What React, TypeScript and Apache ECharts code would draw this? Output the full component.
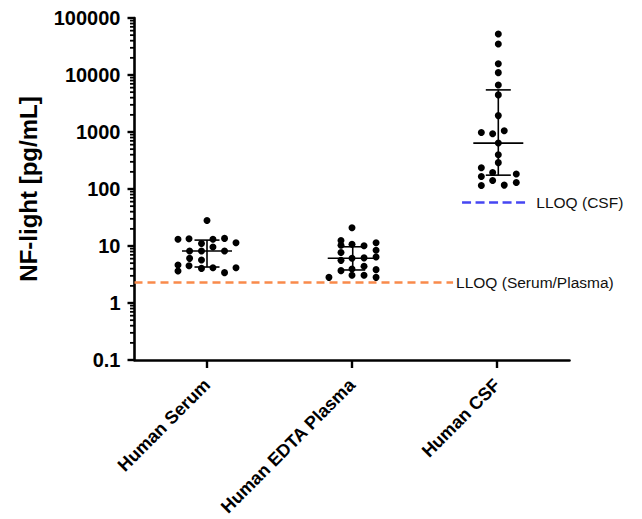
import React, { useEffect, useRef } from "react";
import * as echarts from "echarts";

const categories = ["Human Serum", "Human EDTA Plasma", "Human CSF"];

// jitter offsets (category units) and values
const serumOffsets = [0, -0.2, -0.124, -0.038, 0.041, 0.121, 0.2, 0.041, -0.12, -0.038, 0.121, -0.12, -0.038, -0.2, -0.2, -0.124, -0.038, 0.041, 0.121, 0.2];
const serumValues = [28.1, 13.1, 13.4, 11.1, 13.1, 13.6, 11.4, 9.6, 8.2, 8.2, 8.2, 6.07, 5.69, 4.65, 3.65, 4.52, 4.05, 4.17, 3.41, 4.17];

const plasmaOffsets = [0, -0.076, -0.076, 0, 0.083, 0.166, 0.166, -0.076, -0.076, 0, 0.083, 0.166, -0.076, 0, 0, 0.083, 0.083, 0.166, 0.166, -0.159];
const plasmaValues = [20.9, 12.5, 10.3, 10.7, 10.1, 11.4, 8.4, 7.7, 5.6, 6.1, 6.2, 6.4, 3.7, 3.96, 3.06, 4.4, 3.06, 3.85, 2.82, 2.82];

const csfOffsets = [0.009, 0.009, 0.009, 0.009, 0.009, 0.009, 0.009, -0.108, -0.03, 0.05, 0.009, 0.009, 0.009, -0.108, -0.03, -0.108, 0.133, -0.03, 0.133, -0.108, 0.05];
const csfValues = [52500, 35000, 15800, 11000, 6700, 4480, 1940, 980, 930, 1050, 640, 400, 290, 236, 195, 166, 183, 141, 130, 115, 117];

// central line and error bars per group
const statCenters = [0, 0.005, 0.009];
const statMean = [8.2, 6.1, 638];
const statLow = [4.28, 3.8, 175];
const statHigh = [12.7, 9.7, 5480];

// lower limits of quantification
const lloqSerumPlasma = 2.3;
const lloqSerumPlasmaRange = [-0.5, 1.697];
const lloqCsf = 58;
const lloqCsfRange = [1.759, 2.216];

const yTicks = [0.1, 1, 10, 100, 1000, 10000, 100000];

export default function App() {
  const ref = useRef<HTMLDivElement>(null);
  useEffect(() => {
    if (!ref.current) return;
    const chart = echarts.init(ref.current, undefined, { renderer: "svg" });

    const pts = (offs: number[], vals: number[], idx: number) =>
      vals.map((v, i) => [idx + offs[i], v]);

    const minorTickValues: number[] = [];
    for (let d = 0; d < yTicks.length - 1; d++) {
      for (let k = 2; k <= 9; k++) minorTickValues.push(Number((k * yTicks[d]).toPrecision(6)));
    }

    const statData = categories.map((_, i) => [i + statCenters[i], statMean[i], statLow[i], statHigh[i]]);

    const font = "Liberation Sans, Arial, Helvetica, sans-serif";
    const dot = { color: "#000", opacity: 1 };

    chart.setOption({
      animation: false,
      backgroundColor: "#ffffff",
      textStyle: { fontFamily: font },
      grid: { left: 134.5, right: 72.5, top: 18, bottom: 158.5, containLabel: false },
      xAxis: [
        {
          type: "category",
          data: categories,
          boundaryGap: true,
          axisLine: { show: true, onZero: false, lineStyle: { color: "#000", width: 2.6 } },
          axisTick: { show: true, alignWithLabel: true, length: 8, lineStyle: { color: "#000", width: 2.4 } },
          axisLabel: { rotate: 45, fontSize: 18, fontWeight: "bold", color: "#000", margin: 22, fontFamily: font },
          splitLine: { show: false },
        },
        { type: "value", min: -0.5, max: 2.5, show: false },
      ],
      yAxis: {
        type: "log",
        logBase: 10,
        min: 0.1,
        max: 100000,
        splitNumber: 6,
        name: "NF-light [pg/mL]",
        nameLocation: "middle",
        nameGap: 94,
        nameTextStyle: { fontSize: 24, fontWeight: "bold", color: "#000", fontFamily: font },
        axisLine: { show: true, onZero: false, lineStyle: { color: "#000", width: 2.6 } },
        axisTick: { show: true, length: 7, lineStyle: { color: "#000", width: 2.4 } },
        minorTick: { show: false },
        axisLabel: {
          fontSize: 20,
          fontWeight: "bold",
          color: "#000",
          margin: 14,
          fontFamily: font,
          formatter: (v: number) => String(Number(v.toPrecision(6))),
        },
        splitLine: { show: false },
      },
      series: [
        {
          type: "custom",
          name: "minorTicks",
          xAxisIndex: 1,
          yAxisIndex: 0,
          clip: false,
          silent: true,
          data: minorTickValues.map((v) => [-0.5, v]),
          renderItem: (params: any, api: any) => {
            const p = api.coord([api.value(0), api.value(1)]);
            return {
              type: "line",
              shape: { x1: p[0] - 4.5, y1: p[1], x2: p[0], y2: p[1] },
              style: { stroke: "#000", lineWidth: 1.8 },
            };
          },
        },
        {
          type: "scatter",
          xAxisIndex: 1,
          yAxisIndex: 0,
          symbolSize: 7,
          itemStyle: dot,
          data: pts(serumOffsets, serumValues, 0),
        },
        {
          type: "scatter",
          xAxisIndex: 1,
          yAxisIndex: 0,
          symbolSize: 7,
          itemStyle: dot,
          data: pts(plasmaOffsets, plasmaValues, 1),
        },
        {
          type: "scatter",
          xAxisIndex: 1,
          yAxisIndex: 0,
          symbolSize: 7,
          itemStyle: dot,
          data: pts(csfOffsets, csfValues, 2),
          markLine: {
            silent: true,
            symbol: "none",
            data: [
              [
                {
                  coord: [lloqSerumPlasmaRange[0], lloqSerumPlasma],
                  lineStyle: { color: "#F98A4B", width: 2.6, type: [8, 5] },
                  label: {
                    show: true,
                    position: "end",
                    formatter: "LLOQ (Serum/Plasma)",
                    color: "#111",
                    fontSize: 15.5,
                    fontFamily: font,
                    distance: 3,
                  },
                },
                { coord: [lloqSerumPlasmaRange[1], lloqSerumPlasma] },
              ],
              [
                {
                  coord: [lloqCsfRange[0], lloqCsf],
                  lineStyle: { color: "#4646F2", width: 2.6, type: [9, 4.5] },
                  label: {
                    show: true,
                    position: "end",
                    formatter: "LLOQ (CSF)",
                    color: "#111",
                    fontSize: 15.5,
                    fontFamily: font,
                    distance: 8,
                  },
                },
                { coord: [lloqCsfRange[1], lloqCsf] },
              ],
            ],
          },
        },
        {
          type: "custom",
          name: "meanSD",
          xAxisIndex: 1,
          yAxisIndex: 0,
          silent: true,
          data: statData,
          renderItem: (params: any, api: any) => {
            const x = api.value(0);
            const c = api.coord([x, api.value(1)]);
            const lo = api.coord([x, api.value(2)]);
            const hi = api.coord([x, api.value(3)]);
            const st = { stroke: "#000", lineWidth: 1.6 };
            return {
              type: "group",
              children: [
                { type: "line", shape: { x1: c[0] - 25, y1: c[1], x2: c[0] + 25, y2: c[1] }, style: st },
                { type: "line", shape: { x1: c[0], y1: hi[1], x2: c[0], y2: lo[1] }, style: st },
                { type: "line", shape: { x1: c[0] - 12.5, y1: hi[1], x2: c[0] + 12.5, y2: hi[1] }, style: st },
                { type: "line", shape: { x1: c[0] - 12.5, y1: lo[1], x2: c[0] + 12.5, y2: lo[1] }, style: st },
              ],
            };
          },
        },
      ],
    });
    return () => chart.dispose();
  }, []);
  return (
    <div
      ref={ref}
      style={{ position: "fixed", left: 0, top: 0, width: 642, height: 519, background: "#fff" }}
    />
  );
}
